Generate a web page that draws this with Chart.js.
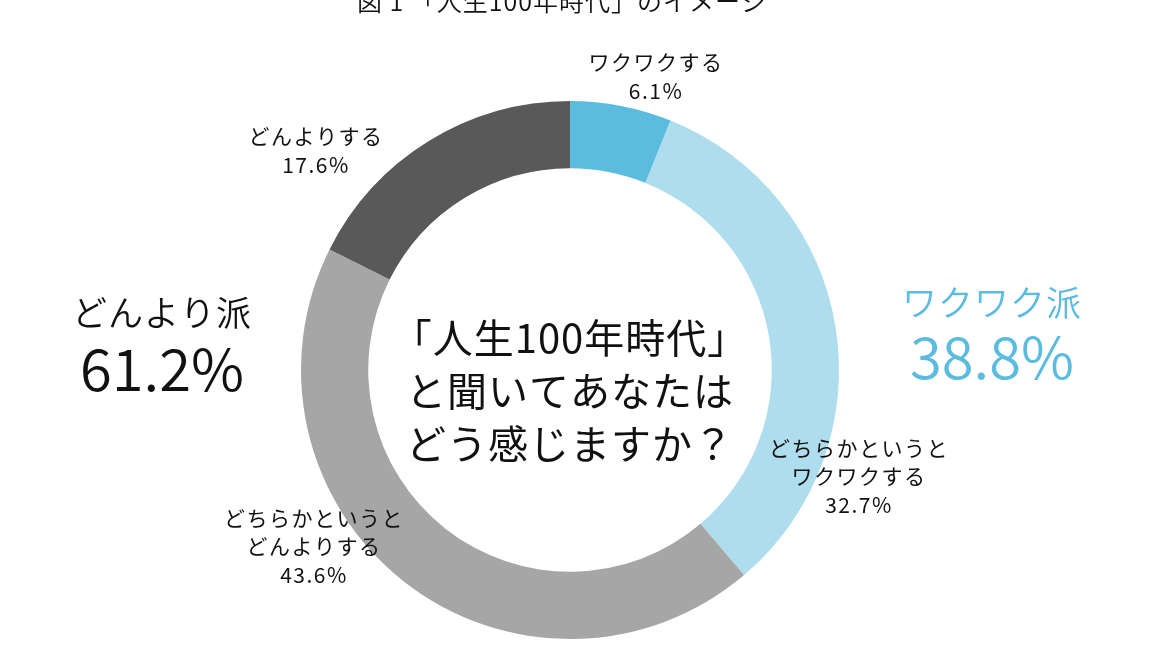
<!DOCTYPE html>
<html>
<head>
<meta charset="utf-8">
<script src="https://cdn.jsdelivr.net/npm/chart.js@4/dist/chart.umd.min.js"></script>
<style>
html,body{margin:0;padding:0;background:#fff;}
#wrap{width:1152px;height:648px;position:relative;}
</style>
</head>
<body>
<div id="wrap"><canvas id="c" width="1152" height="648"></canvas></div>
<script>
const titleText = '図 1 「人生100年時代」のイメージ';
const categories = ['ワクワクする', 'どちらかというと\nワクワクする', 'どちらかというと\nどんよりする', 'どんよりする'];
const values = [6.1, 32.7, 43.6, 17.6];
const colors = ['#5BBCE0', '#AEDDEE', '#A6A6A6', '#595959'];
const groupNames = ['ワクワク派', 'どんより派'];
const groupMembers = [[0, 1], [2, 3]];
const centerLines = ['「人生100年時代」', 'と聞いてあなたは', 'どう感じますか？'];

const FONT = '"Noto Sans CJK JP", "Noto Sans", sans-serif';

const labelPlugin = {
  id: 'labelPlugin',
  afterDraw(chart) {
    const ctx = chart.ctx;
    const meta = chart.getDatasetMeta(0);
    const arc = meta.data[0];
    const cx = arc.x, cy = arc.y;
    ctx.save();
    ctx.textAlign = 'center';
    ctx.fillStyle = '#111';

    // title (cut off at top)
    ctx.font = '350 25px ' + FONT;
    ctx.letterSpacing = '1px';
    ctx.textBaseline = 'alphabetic';
    ctx.fillText(titleText, 562, 11);
    ctx.textBaseline = 'middle';

    // segment labels
    const pos = [
      {x: 656, y: 62, lh: 29.5},
      {x: 859, y: 448, lh: 28.5},
      {x: 314, y: 518, lh: 28.5},
      {x: 316, y: 136, lh: 29}
    ];
    ctx.font = '400 21px ' + FONT;
    ctx.letterSpacing = '1.5px';
    categories.forEach((c, i) => {
      const lines = c.split('\n').concat([values[i].toFixed(1) + '%']);
      lines.forEach((ln, j) => {
        ctx.fillText(ln, pos[i].x, pos[i].y + j * pos[i].lh);
      });
    });

    // group totals
    const gpos = [
      {x: 992, y: 303, y2: 357, color: '#5BBCE0'},
      {x: 162, y: 313, y2: 369, color: '#111111'}
    ];
    groupNames.forEach((g, i) => {
      const total = groupMembers[i].reduce((s, k) => s + values[k], 0);
      ctx.fillStyle = gpos[i].color;
      ctx.font = '350 35px ' + FONT;
      ctx.letterSpacing = '1px';
      ctx.fillText(g, gpos[i].x, gpos[i].y);
      ctx.font = '350 58px ' + FONT;
      ctx.letterSpacing = '0px';
      ctx.fillText(total.toFixed(1) + '%', gpos[i].x, gpos[i].y2);
    });

    // center text
    ctx.fillStyle = '#111';
    ctx.font = '400 40px ' + FONT;
    ctx.letterSpacing = '1px';
    centerLines.forEach((ln, j) => {
      ctx.fillText(ln, cx, cy - 32 + j * 53);
    });
    ctx.restore();
  }
};

new Chart(document.getElementById('c'), {
  type: 'doughnut',
  data: {
    labels: categories,
    datasets: [{
      data: values,
      backgroundColor: colors,
      borderWidth: 0,
      hoverOffset: 0,
      offset: 0
    }]
  },
  options: {
    responsive: false,
    animation: false,
    events: [],
    cutout: '75%',
    layout: {padding: {left: 301, right: 313, top: 101, bottom: 9}},
    plugins: {legend: {display: false}, tooltip: {enabled: false}, title: {display: false}}
  },
  plugins: [labelPlugin]
});
</script>
</body>
</html>
